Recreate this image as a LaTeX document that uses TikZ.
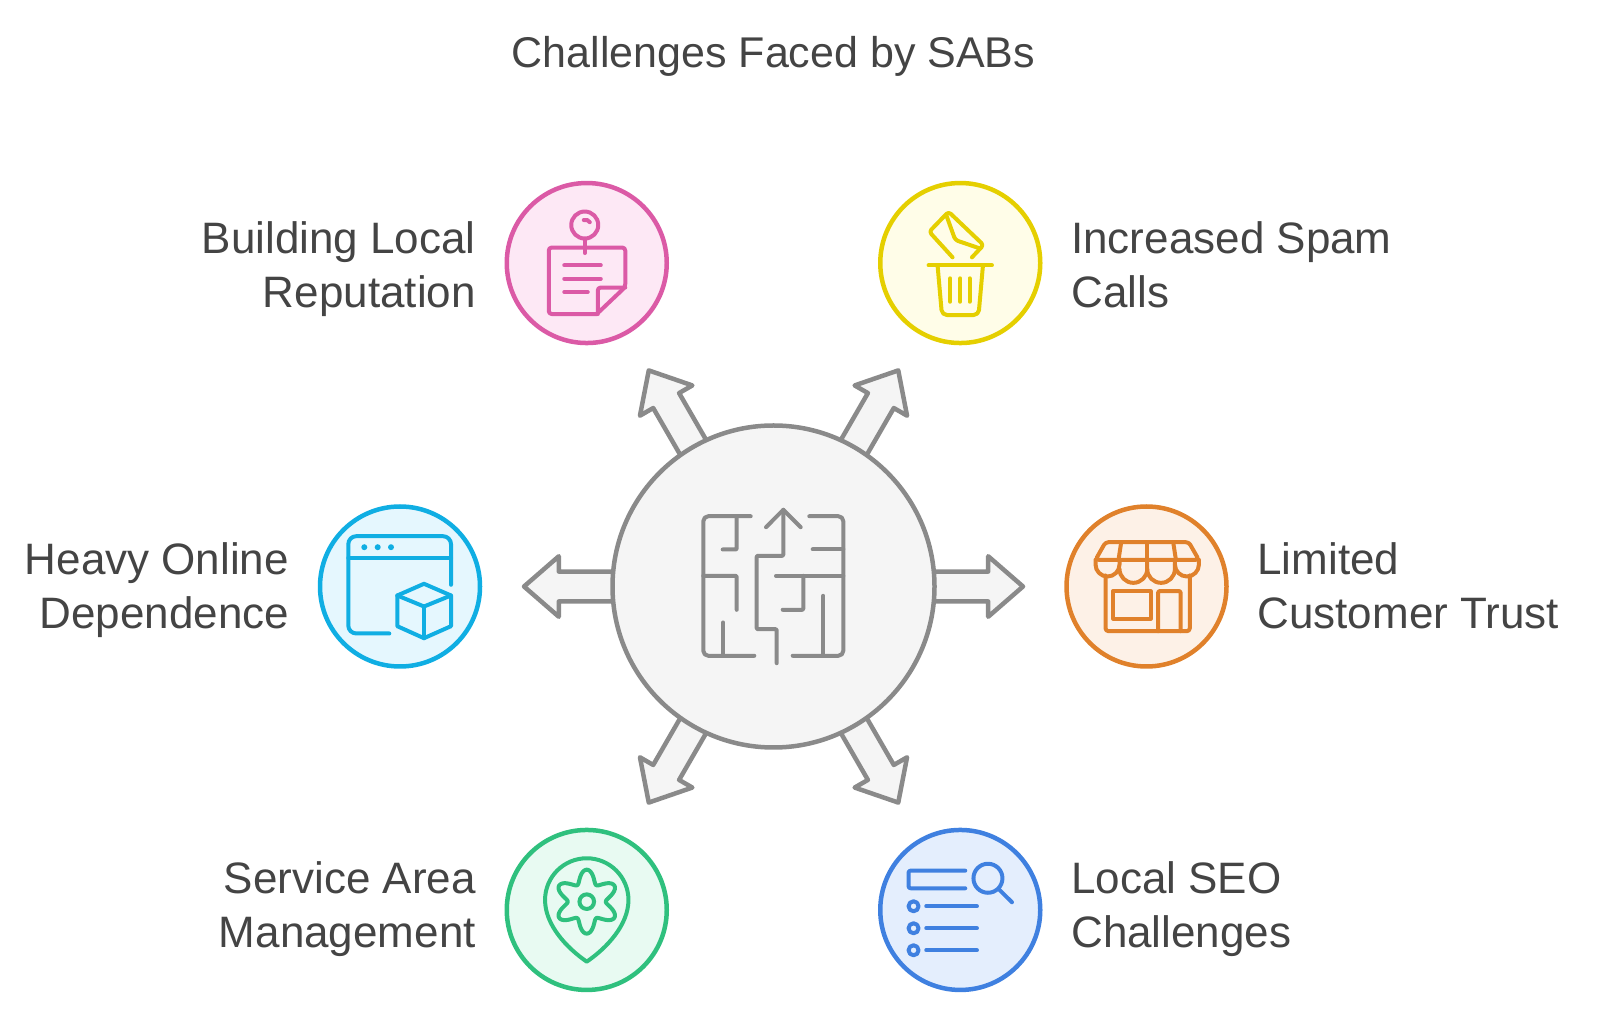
\documentclass[tikz,border=0pt]{standalone}
\usepackage{fontspec}
\setmainfont{Liberation Sans}
\usetikzlibrary{backgrounds,calc,positioning,shapes.arrows}
\definecolor{tinta}{HTML}{444444}
\definecolor{cinza}{HTML}{8A8A8A}
\definecolor{cinzaclaro}{HTML}{F5F5F5}
\definecolor{rosa}{HTML}{DB5AA6}
\definecolor{rosaclaro}{HTML}{FDE8F5}
\definecolor{amarelo}{HTML}{E5CF00}
\definecolor{amareloclaro}{HTML}{FFFDE8}
\definecolor{laranja}{HTML}{E0812B}
\definecolor{laranjaclaro}{HTML}{FDF1E7}
\definecolor{ciano}{HTML}{10AEE3}
\definecolor{cianoclaro}{HTML}{E5F7FE}
\definecolor{verde}{HTML}{2FC07E}
\definecolor{verdeclaro}{HTML}{E8FAF2}
\definecolor{azul}{HTML}{3F80E0}
\definecolor{azulclaro}{HTML}{E4EEFD}

\begin{document}
\begin{tikzpicture}[
  x=1pt,y=1pt,
  node distance=31pt,
  badge/.style 2 args={circle,draw=#1,fill=#2,line width=4.5pt,minimum size=160pt,inner sep=0pt,outer sep=0pt},
  spoke/.style={single arrow,draw=cinza,fill=cinzaclaro,line width=4.5pt,line join=round,minimum height=99.5pt,
                minimum width=56pt,inner xsep=0pt,inner ysep=12.7pt,outer sep=0pt,
                single arrow head extend=15.3pt,single arrow tip angle=82,anchor=tail},
  lbl/.style={font=\fontsize{44}{54}\selectfont,text=tinta,inner sep=0pt,outer sep=0pt},
  icon/.style={draw=#1,line width=4pt,line cap=round,line join=round,rounded corners=3pt}
]
  \useasboundingbox (0,0) rectangle (1600,1020);

  \node[font=\fontsize{43}{54}\selectfont,text=tinta,inner sep=0pt] (title) at (773.5,964) {Challenges Faced by SABs};
  \node[badge={cinza}{cinzaclaro},minimum size=322pt] (hub) at (773.5,433.5) {};

  \node[badge={rosa}{rosaclaro}] (repu) at ($(hub)+(120:373.5)$) {};
  \node[badge={amarelo}{amareloclaro}] (spam) at ($(hub)+(60:373.5)$) {};
  \node[badge={laranja}{laranjaclaro}] (trust) at ($(hub)+(0:373)$) {};
  \node[badge={ciano}{cianoclaro}] (online) at ($(hub)+(180:373.5)$) {};
  \node[badge={verde}{verdeclaro}] (area) at ($(hub)+(240:373.5)$) {};
  \node[badge={azul}{azulclaro}] (seo) at ($(hub)+(300:373.5)$) {};

  \node[lbl,align=right,left=of repu,yshift=-7pt] (repulbl) {\strut Building Local\\\strut Reputation};
  \node[lbl,align=left,right=of spam,yshift=-7pt] (spamlbl) {\strut Increased Spam\\\strut Calls};
  \node[lbl,align=left,right=of trust,yshift=-4pt] (trustlbl) {\strut Limited\\\strut Customer Trust};
  \node[lbl,align=right,left=of online,yshift=-4pt] (onlinelbl) {\strut Heavy Online\\\strut Dependence};
  \node[lbl,align=right,left=of area,yshift=0.5pt] (arealbl) {\strut Service Area\\\strut Management};
  \node[lbl,align=left,right=of seo,yshift=0.5pt] (seolbl) {\strut Local SEO\\\strut Challenges};

  \begin{scope}[on background layer]
    \foreach \ang in {0,60,120,180,240,300}
      \node[spoke,rotate=\ang] (spoke\ang) at ($(hub)+(\ang:150)$) {};
  \end{scope}

  \begin{scope}[shift={(hub)},icon=cinza,rounded corners=5pt]
    \draw (-22.8,70.3)--(-70.2,70.3)--(-70.2,-69.3)--(-19.2,-69.3);
    \draw (35.8,70.3)--(69.8,70.3)--(69.8,-69.3)--(19.2,-69.3);
    \draw[rounded corners=1pt] (-36.8,70.3)--(-36.8,37)--(-50.8,37);
    \draw[rounded corners=1pt] (-70.2,10.7)--(-36.8,10.7)--(-36.8,-23.3);
    \draw (-50.2,-36)--(-50.2,-69.3);
    \draw[rounded corners=1pt] (3.2,-76.7)--(3.2,-42.7)--(-16.8,-42.7)--(-16.8,30.7)--(9.8,30.7)--(9.8,76.7);
    \draw[sharp corners] (-7.5,59.3)--(9.8,76.7)--(27.2,59.3);
    \draw (39.2,37)--(69.8,37);
    \draw (2.5,10.7)--(69.8,10.7);
    \draw[rounded corners=1pt] (29.8,10.7)--(29.8,-23.3)--(9.2,-23.3);
    \draw (49.8,-9.3)--(49.8,-69.3);
  \end{scope}

  \begin{scope}[shift={(repu)},icon=rosa]
    \draw (-2,38) circle (13.5);
    \draw (-3,43) arc[start angle=110,end angle=30,radius=5];
    \draw (-2,23)--(-2,10);
    \draw (10,-51)--(-38,-51)--(-38,15.5)--(38.5,15.5)--(38.5,-24)--(10,-51);
    \draw (11,-51)--(11,-24.5)--(38.5,-24.5);
    \draw (-22.5,-2.3)--(14,-2.3);
    \draw (-22.5,-15.7)--(14,-15.7);
    \draw (-22.5,-29)--(1,-29);
  \end{scope}

  \begin{scope}[shift={(spam)},icon=amarelo]
    \draw (-31.7,-2.3)--(31.7,-2.3);
    \draw[rounded corners=5pt] (-22.7,-2.3)--(-18.3,-52)--(18.3,-52)--(22.7,-2.3);
    \draw (-10,-15.3)--(-10,-38.7);
    \draw (0,-15.3)--(0,-38.7);
    \draw (9.3,-15.3)--(9.3,-38.7);
    \draw (-7.7,5.7)--(-31,31.3)--(-11.7,51.3)--(23.3,18)--(11.7,5.7);
    \draw (-14,48)--(-5,23)--(19.3,14.7);
  \end{scope}

  \begin{scope}[shift={(trust)},icon=laranja]
    \draw (-51,26.7)--(-41,44.3)--(42.3,44.3)--(52.3,26.7)--cycle;
    \draw[sharp corners] (-25.3,44.3)--(-28,26.7);
    \draw[sharp corners] (0.7,44.3)--(0.7,26.7);
    \draw[sharp corners] (26.7,44.3)--(29.4,26.7);
    \draw[sharp corners] (-51,26.7)--(-51,22) arc[start angle=180,end angle=360,radius=12]--(-27,26.7);
    \draw[sharp corners] (-27,17.5) arc[start angle=180,end angle=360,radius=13.85]--(0.7,26.7);
    \draw[sharp corners] (0.7,17.5) arc[start angle=180,end angle=360,radius=13.85]--(28.4,26.7);
    \draw[sharp corners] (28.4,22) arc[start angle=180,end angle=360,radius=12]--(52.4,26.7);
    \draw (-41,11)--(-41,-44.7)--(43.3,-44.7)--(43.3,11);
    \draw[sharp corners] (-33.3,-4.7) rectangle (4,-32.3);
    \draw[rounded corners=1pt] (11.7,-44.7)--(11.7,-4.7)--(34,-4.7)--(34,-44.7);
  \end{scope}

  \begin{scope}[shift={(online)},icon=ciano]
    \draw[rounded corners=8pt] (51,1.7)--(51,50.3)--(-51.7,50.3)--(-51.7,-47)--(-10.7,-47);
    \draw (-51.7,28.7)--(51,28.7);
    \foreach \dotx in {-35.7,-22.3,-9}
      \fill[ciano] (\dotx,39.3) circle (3);
    \draw[sharp corners] (24,2.7)--(51,-9)--(51,-39.7)--(24,-51.7)--(-2.7,-39.7)--(-2.7,-9)--cycle;
    \draw[sharp corners] (-2.7,-9)--(24,-20)--(51,-9);
    \draw[sharp corners] (24,-20)--(24,-51.7);
  \end{scope}

  \begin{scope}[shift={(area)},icon=verde,sharp corners]
    \draw (0,-51.7) .. controls (-20,-38) and (-41.7,-15) .. (-41.7,10)
      .. controls (-41.7,33) and (-23,51.7) .. (0,51.7)
      .. controls (23,51.7) and (41.7,33) .. (41.7,10)
      .. controls (41.7,-15) and (20,-38) .. (0,-51.7) -- cycle;
    \draw[shift={(0,8.3)}] plot[domain=0:360,samples=121,smooth] (\x:{25.5+6.5*cos(6*(\x-90))}) -- cycle;
    \draw (0,8.3) circle (7.3);
  \end{scope}

  \begin{scope}[shift={(seo)},icon=azul]
    \draw[rounded corners=2pt] (5,39.3)--(-51.7,39.3)--(-51.7,21.7)--(5,21.7);
    \draw (27.7,31.7) circle (14.5);
    \draw (39.3,20)--(51.7,7.7);
    \foreach \rowy in {3.7,-18.3,-40.3} {
      \draw (-46.7,\rowy) circle (5);
      \draw (-34,\rowy)--(16.7,\rowy);
    }
  \end{scope}
\end{tikzpicture}
\end{document}
